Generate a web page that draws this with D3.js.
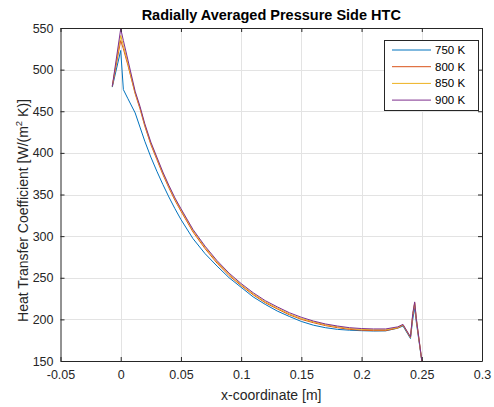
<!DOCTYPE html>
<html><head><meta charset="utf-8">
<script src="https://cdn.jsdelivr.net/npm/d3@7"></script>
<style>body{margin:0;background:#fff}svg{display:block}text{font-family:"Liberation Sans",Arial,sans-serif}</style>
</head><body>
<svg id="c" width="494" height="407"></svg>
<script>
const xs = [-0.007, 0, 0.0022, 0.006, 0.012, 0.016, 0.02, 0.025, 0.03, 0.035, 0.04, 0.045, 0.05, 0.06, 0.07, 0.08, 0.09, 0.1, 0.11, 0.12, 0.13, 0.14, 0.15, 0.16, 0.17, 0.18, 0.19, 0.2, 0.21, 0.22, 0.23, 0.2344, 0.2406, 0.2425, 0.2441, 0.2455, 0.2505];
const t750 = [479, 523, 476, 465, 448, 431, 414, 395, 378, 362, 347, 333, 320, 297, 279, 264, 250, 238.5, 227, 218, 210, 203.5, 197.5, 193, 190, 188, 187, 186.4, 186, 186.2, 189.5, 192, 177, 200, 214, 196, 145];
const t800 = [480, 535, 525, 505, 471, 453, 432, 410, 392, 374, 358, 343, 330, 305, 285, 267.5, 252.5, 240.5, 229.5, 220, 212.5, 205.5, 200, 196, 192.5, 190, 188, 187, 186.5, 186.5, 189.5, 193, 178, 205, 219, 199, 145];
const t850 = [480, 541, 529, 507, 472, 454.5, 433.5, 411.5, 393.5, 375.5, 359.5, 344.5, 331.5, 306.5, 286.5, 269, 254, 241.5, 230.5, 221, 213.5, 206.5, 201, 197, 193.5, 191, 189, 188, 187.5, 187.5, 190, 193.5, 178.5, 206, 220, 200, 145];
const t900 = [480, 549, 535, 511.5, 474, 456, 435, 413, 395, 377, 361, 346, 333, 308, 288, 270.5, 255.5, 243, 232, 222.5, 215, 208, 202.5, 198, 194.5, 192, 190, 189, 188.5, 188.5, 191, 194, 179, 207, 221, 201, 145];
const seriesNames = ["750 K", "800 K", "850 K", "900 K"];
const seriesValues = [t750, t800, t850, t900];
const colors = ["#0072BD", "#D95319", "#EDB120", "#7E2F8E"];
const xTicks = [-0.05, 0, 0.05, 0.1, 0.15, 0.2, 0.25, 0.3];
const xTickLabels = ["-0.05", "0", "0.05", "0.1", "0.15", "0.2", "0.25", "0.3"];
const yTicks = [150, 200, 250, 300, 350, 400, 450, 500, 550];

const svg = d3.select("#c");
const L = 60.5, R = 482, T = 28, B = 361;
const x = d3.scaleLinear().domain([-0.05, 0.3]).range([L, R]);
const y = d3.scaleLinear().domain([150, 550]).range([B, T]);
const axisCol = "#262626";

// grid
const g = svg.append("g");
g.selectAll(".gx").data(xTicks.slice(1, -1)).join("line")
  .attr("x1", d => Math.round(x(d)) + 0.5).attr("x2", d => Math.round(x(d)) + 0.5)
  .attr("y1", T).attr("y2", B).attr("stroke", "#e3e3e3").attr("stroke-width", 1);
g.selectAll(".gy").data(yTicks.slice(1, -1)).join("line")
  .attr("y1", d => Math.round(y(d)) + 0.5).attr("y2", d => Math.round(y(d)) + 0.5)
  .attr("x1", L).attr("x2", R).attr("stroke", "#e3e3e3").attr("stroke-width", 1);

// lines
svg.append("clipPath").attr("id", "clip").append("rect")
  .attr("x", L).attr("y", T).attr("width", R - L).attr("height", B - T);
const line = d3.line().x((d, i) => x(xs[i])).y(d => y(d));
const lg = svg.append("g").attr("clip-path", "url(#clip)");
seriesValues.forEach((vals, k) => {
  lg.append("path").attr("d", line(vals)).attr("fill", "none")
    .attr("stroke", colors[k]).attr("stroke-width", 1).attr("stroke-linejoin", "round");
});

// axes
const ax = svg.append("g");
const xb = d3.axisBottom(x).tickValues(xTicks).tickFormat((d, i) => xTickLabels[i]).tickSizeInner(-4).tickSizeOuter(0).tickPadding(9);
const xt = d3.axisTop(x).tickValues(xTicks).tickFormat("").tickSizeInner(-4).tickSizeOuter(0);
const yl = d3.axisLeft(y).tickValues(yTicks).tickSizeInner(-4).tickSizeOuter(0).tickPadding(7);
const yr = d3.axisRight(y).tickValues(yTicks).tickFormat("").tickSizeInner(-4).tickSizeOuter(0);
function style(sel) {
  sel.selectAll("path").attr("stroke", axisCol);
  sel.selectAll("line").attr("stroke", axisCol);
  sel.selectAll("text").attr("fill", axisCol).style("font-size", "12.5px").style("font-family", "'Liberation Sans',Arial,sans-serif");
}
ax.append("g").attr("transform", `translate(0,${B})`).call(xb).call(style);
ax.append("g").attr("transform", `translate(0,${T})`).call(xt).call(style);
ax.append("g").attr("transform", `translate(${L},0)`).call(yl).call(style);
ax.append("g").attr("transform", `translate(${R},0)`).call(yr).call(style);

// title & labels
svg.append("text").attr("x", (L + R) / 2).attr("y", 20).attr("text-anchor", "middle")
  .attr("font-size", 14.5).attr("font-weight", "bold").attr("fill", "#000").text("Radially Averaged Pressure Side HTC");
svg.append("text").attr("x", (L + R) / 2).attr("y", 400).attr("text-anchor", "middle")
  .attr("font-size", 14).attr("fill", axisCol).text("x-coordinate [m]");
const yt = svg.append("text").attr("transform", `translate(28,${(T + B) / 2 + 16}) rotate(-90)`).attr("text-anchor", "middle")
  .attr("font-size", 14).attr("fill", axisCol);
yt.append("tspan").text("Heat Transfer Coefficient [W/(m");
yt.append("tspan").attr("dy", -6).attr("font-size", 9.5).text("2");
yt.append("tspan").attr("dy", 6).text(" K)]");

// legend
const lgx = 384.5, lgy = 40.5, lgw = 94, lgh = 70;
const leg = svg.append("g");
leg.append("rect").attr("x", lgx).attr("y", lgy).attr("width", lgw).attr("height", lgh)
  .attr("fill", "#fff").attr("stroke", axisCol).attr("stroke-width", 1);
seriesNames.forEach((n, k) => {
  const yy = 50 + k * 16.7;
  leg.append("line").attr("x1", 392).attr("x2", 431).attr("y1", yy).attr("y2", yy)
    .attr("stroke", colors[k]).attr("stroke-width", 1);
  leg.append("text").attr("x", 435).attr("y", yy + 4).attr("font-size", 11.5).attr("fill", "#000").text(n);
});
</script>
</body></html>
